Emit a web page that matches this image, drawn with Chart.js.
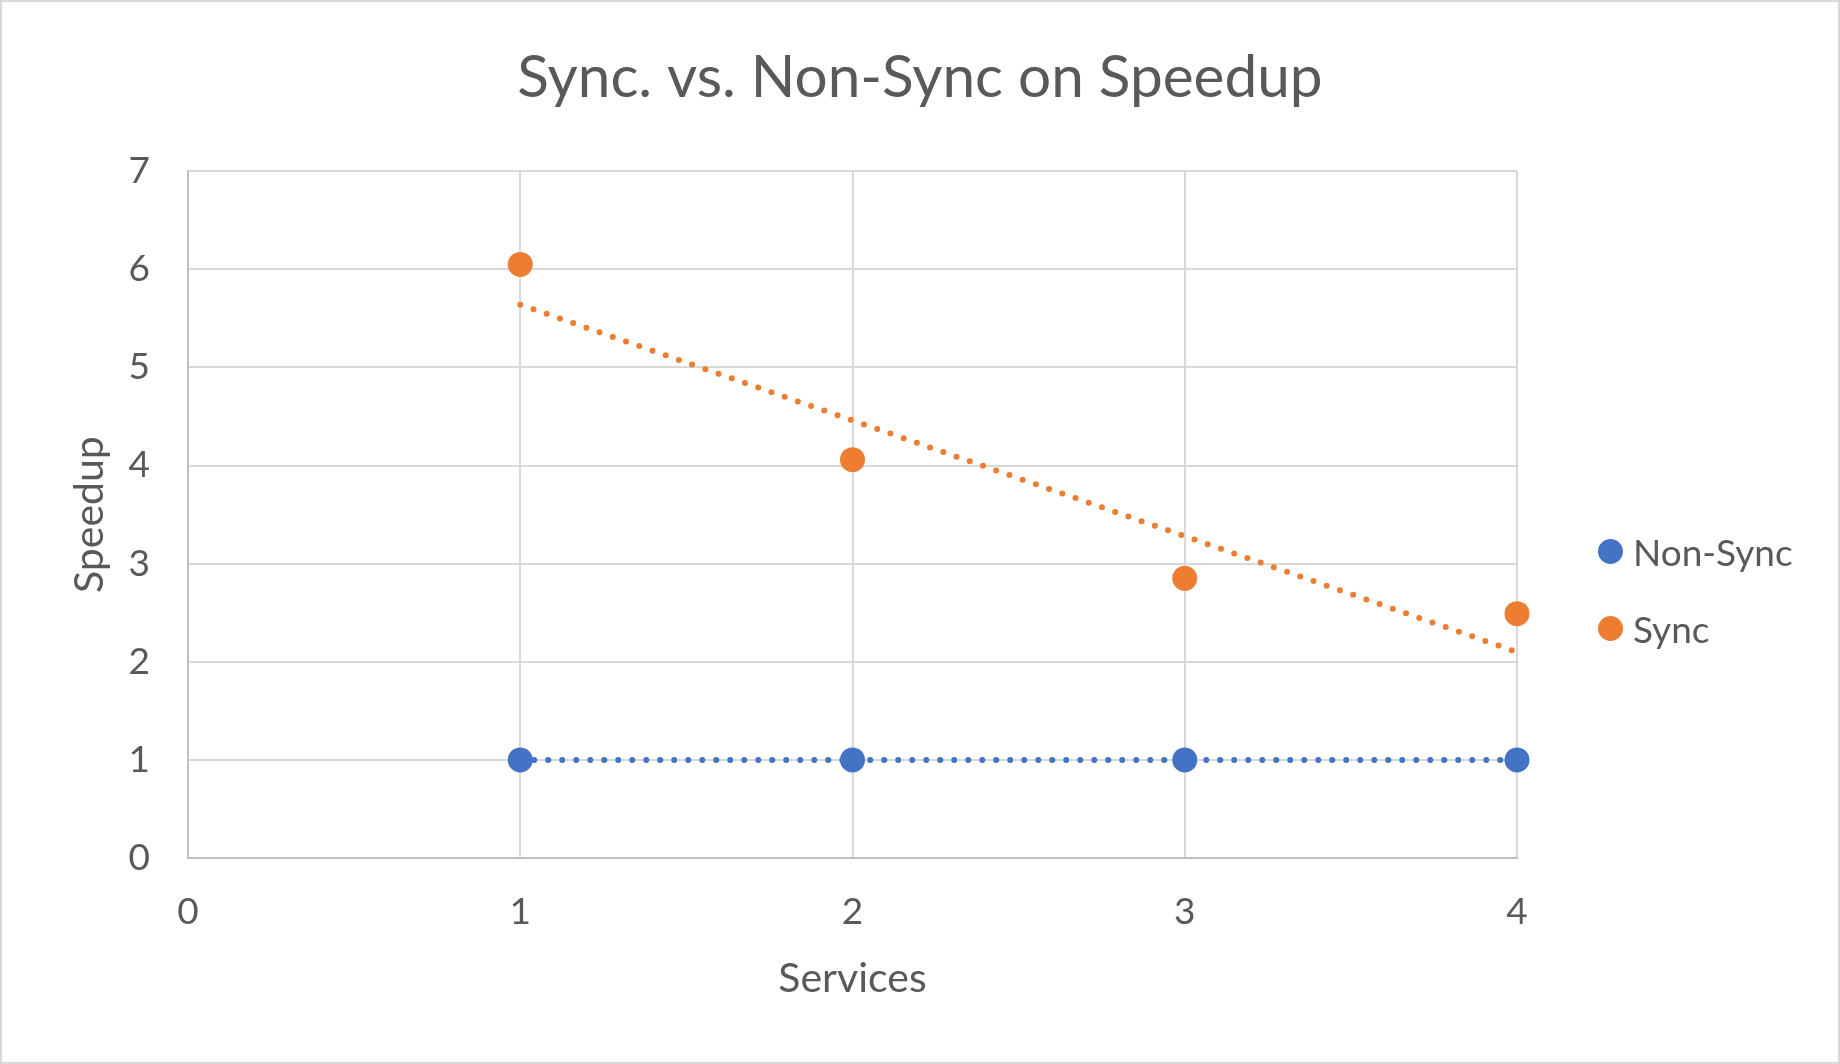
<!DOCTYPE html>
<html>
<head>
<meta charset="utf-8">
<script src="https://cdn.jsdelivr.net/npm/chart.js@4/dist/chart.umd.min.js"></script>
<style>
  body { margin: 0; background: #fff; }
  #wrap { position: relative; width: 1840px; height: 1064px; }
  #frame { position: absolute; left: 0; top: 0; width: 1840px; height: 1064px; box-sizing: border-box; border: 2px solid #d9d9d9; pointer-events: none; }
  #legend { position: absolute; left: 1598px; top: 530px; font-family: Lato, sans-serif; font-size: 37px; color: #595959; }
  .item { display: flex; align-items: center; height: 42px; margin-bottom: 35px; }
  .dot { width: 25px; height: 25px; border-radius: 50%; margin-right: 10px; }
</style>
</head>
<body>
<div id="wrap">
  <canvas id="speedup-chart" width="1840" height="1064"></canvas>
  <div id="legend"></div>
  <div id="frame"></div>
</div>
<script>
const ctx = document.getElementById('speedup-chart').getContext('2d');

// values
const services = [1, 2, 3, 4];
const nonSync = [1, 1, 1, 1];
const sync = [6.05, 4.06, 2.85, 2.49];
// dotted linear trendlines
const nonSyncTrend = [1, 1, 1, 1];
const syncTrend = [5.64, 4.46, 3.28, 2.10];

const xTicks = [0, 1, 2, 3, 4];
const yTicks = [0, 1, 2, 3, 4, 5, 6, 7];

const blue = '#4472C4';
const orange = '#ED7D31';
const textColor = '#595959';

const toPoints = (xs, ys) => xs.map((x, i) => ({ x: x, y: ys[i] }));

const series = [
  { label: 'Non-Sync', data: nonSync, trend: nonSyncTrend, color: blue },
  { label: 'Sync', data: sync, trend: syncTrend, color: orange }
];

const datasets = [];
series.forEach(s => {
  datasets.push({
    label: s.label,
    data: toPoints(services, s.data),
    backgroundColor: s.color,
    borderColor: s.color,
    pointRadius: 12.5,
    pointHoverRadius: 12.5,
    pointBorderWidth: 0,
    showLine: false,
    clip: false,
    order: 0
  });
});
series.forEach(s => {
  datasets.push({
    label: s.label + ' trend',
    data: toPoints(services, s.trend),
    borderColor: s.color,
    borderWidth: 6,
    borderDash: [0, 14],
    borderCapStyle: 'round',
    pointRadius: 0,
    showLine: true,
    fill: false,
    clip: false,
    order: 1
  });
});

const chart = new Chart(ctx, {
  type: 'scatter',
  data: { datasets: datasets },
  options: {
    responsive: false,
    animation: false,
    devicePixelRatio: 1,
    layout: { padding: 0 },
    plugins: {
      legend: { display: false },
      tooltip: { enabled: false },
      title: {
        display: true,
        text: 'Sync. vs. Non-Sync on Speedup',
        color: textColor,
        font: { family: 'Lato', size: 58.5, weight: 'normal', lineHeight: 1.2 },
        padding: { top: 43, bottom: 58 }
      }
    },
    scales: {
      x: {
        type: 'linear',
        min: 0,
        max: 4,
        afterBuildTicks: axis => { axis.ticks = xTicks.map(v => ({ value: v })); },
        afterFit: axis => { axis.height = 206; },
        ticks: {
          color: textColor,
          padding: 32,
          font: { family: 'Lato', size: 37 }
        },
        grid: { color: '#d9d9d9', lineWidth: 2, drawTicks: false },
        border: { color: '#bfbfbf', width: 2 },
        title: {
          display: true,
          text: 'Services',
          color: textColor,
          font: { family: 'Lato', size: 41, lineHeight: 1.2 },
          padding: { bottom: 61 }
        }
      },
      y: {
        type: 'linear',
        min: 0,
        max: 7,
        afterBuildTicks: axis => { axis.ticks = yTicks.map(v => ({ value: v })); },
        afterFit: axis => { axis.width = 188; },
        ticks: {
          color: textColor,
          padding: 38,
          font: { family: 'Lato', size: 37 }
        },
        grid: { color: '#d9d9d9', lineWidth: 2, drawTicks: false },
        border: { color: '#bfbfbf', width: 2 },
        title: {
          display: true,
          text: 'Speedup',
          color: textColor,
          font: { family: 'Lato', size: 41, lineHeight: 1.2 },
          padding: { top: 65 }
        }
      },
      // empty right-hand box that leaves room for the legend
      spacer: {
        type: 'linear',
        position: 'right',
        display: true,
        afterFit: axis => { axis.width = 323; },
        ticks: { display: false },
        grid: { display: false, drawTicks: false },
        border: { display: false }
      }
    }
  }
});

// html legend, markers only
const legendEl = document.getElementById('legend');
series.forEach(s => {
  const item = document.createElement('div');
  item.className = 'item';
  const dot = document.createElement('span');
  dot.className = 'dot';
  dot.style.background = s.color;
  const txt = document.createElement('span');
  txt.textContent = s.label;
  item.appendChild(dot);
  item.appendChild(txt);
  legendEl.appendChild(item);
});
</script>
</body>
</html>
